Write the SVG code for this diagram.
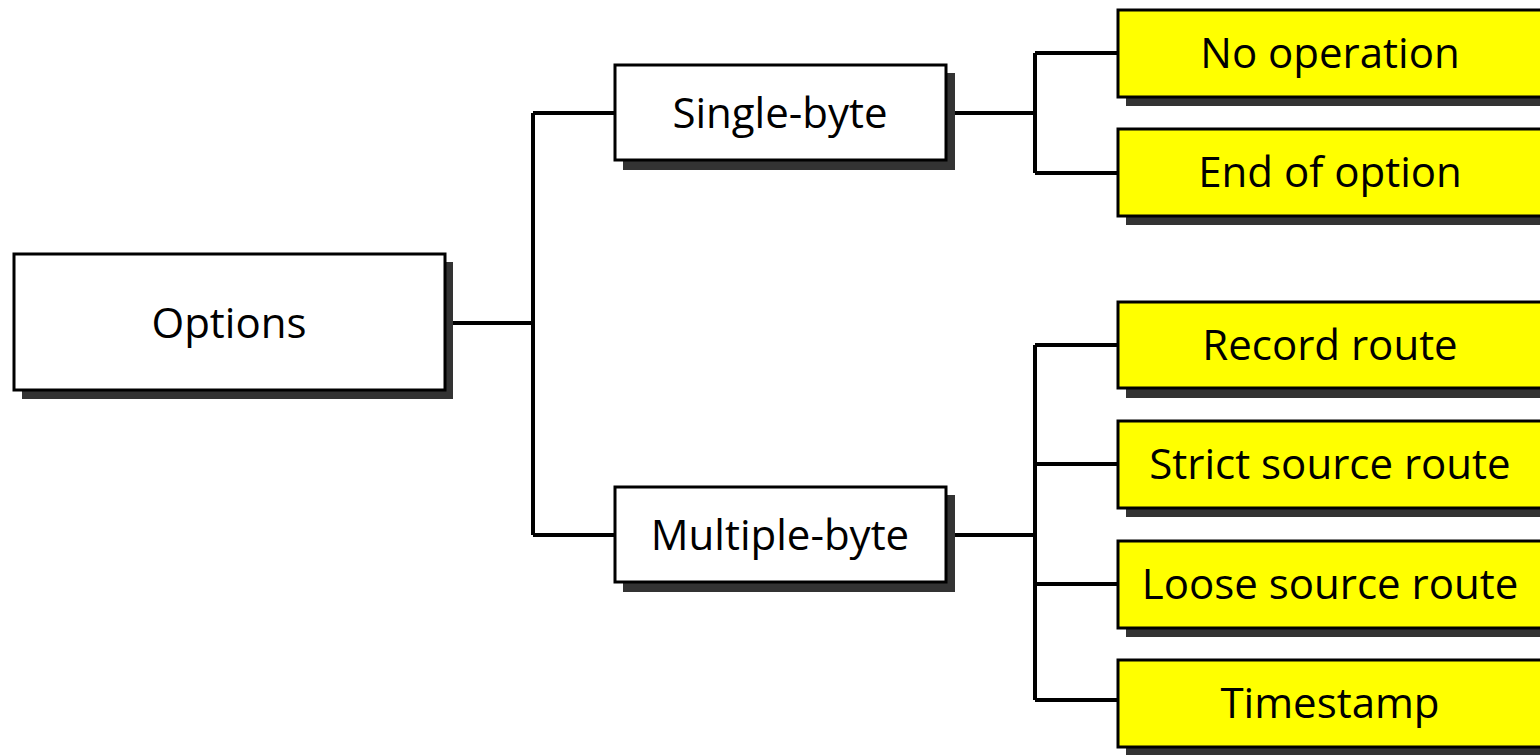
<svg xmlns="http://www.w3.org/2000/svg" width="1540" height="755" viewBox="0 0 1540 755">
<style>
.sh{fill:#333333}
.w{fill:#ffffff;stroke:#000;stroke-width:3}
.y{fill:#ffff00;stroke:#000;stroke-width:3}
.t{font-family:"Open Sans","Noto Sans",sans-serif;font-size:42px;fill:#000;text-anchor:middle;dominant-baseline:central}
.c{fill:none;stroke:#000;stroke-width:4}
</style>
<rect width="1540" height="755" fill="#fff"/>
<g id="connectors">
<path class="c" d="M445 323H533M533 113V535M533 113H615M533 535H615"/>
<path class="c" d="M955 113H1035M1035 53V173M1035 53H1118M1035 173H1118"/>
<path class="c" d="M955 535H1035M1035 345V700M1035 345H1118M1035 464H1118M1035 584H1118M1035 700H1118"/>
</g>
<g id="options">
<rect class="sh" x="22" y="262" width="431" height="137"/>
<rect class="w" x="14" y="254" width="431" height="136"/>
<text class="t" x="229" y="321">Options</text>
</g>
<g id="single-byte">
<rect class="sh" x="623" y="73" width="332" height="97"/>
<rect class="w" x="615" y="65" width="331" height="95"/>
<text class="t" x="780" y="111">Single-byte</text>
</g>
<g id="multiple-byte">
<rect class="sh" x="623" y="495" width="332" height="97"/>
<rect class="w" x="615" y="487" width="331" height="95"/>
<text class="t" x="780" y="533">Multiple-byte</text>
</g>
<g id="no-operation">
<rect class="sh" x="1126" y="18" width="420" height="88"/>
<rect class="y" x="1118" y="10" width="430" height="87"/>
<text class="t" x="1330" y="51">No operation</text>
</g>
<g id="end-of-option">
<rect class="sh" x="1126" y="137" width="420" height="88"/>
<rect class="y" x="1118" y="129" width="430" height="87"/>
<text class="t" x="1330" y="170">End of option</text>
</g>
<g id="record-route">
<rect class="sh" x="1126" y="310" width="420" height="88"/>
<rect class="y" x="1118" y="302" width="430" height="86"/>
<text class="t" x="1330" y="343">Record route</text>
</g>
<g id="strict-source-route">
<rect class="sh" x="1126" y="429" width="420" height="88"/>
<rect class="y" x="1118" y="421" width="430" height="87"/>
<text class="t" x="1330" y="462">Strict source route</text>
</g>
<g id="loose-source-route">
<rect class="sh" x="1126" y="549" width="420" height="88"/>
<rect class="y" x="1118" y="541" width="430" height="87"/>
<text class="t" x="1330" y="582">Loose source route</text>
</g>
<g id="timestamp">
<rect class="sh" x="1126" y="668" width="420" height="88"/>
<rect class="y" x="1118" y="660" width="430" height="87"/>
<text class="t" x="1330" y="701">Timestamp</text>
</g>
</svg>
